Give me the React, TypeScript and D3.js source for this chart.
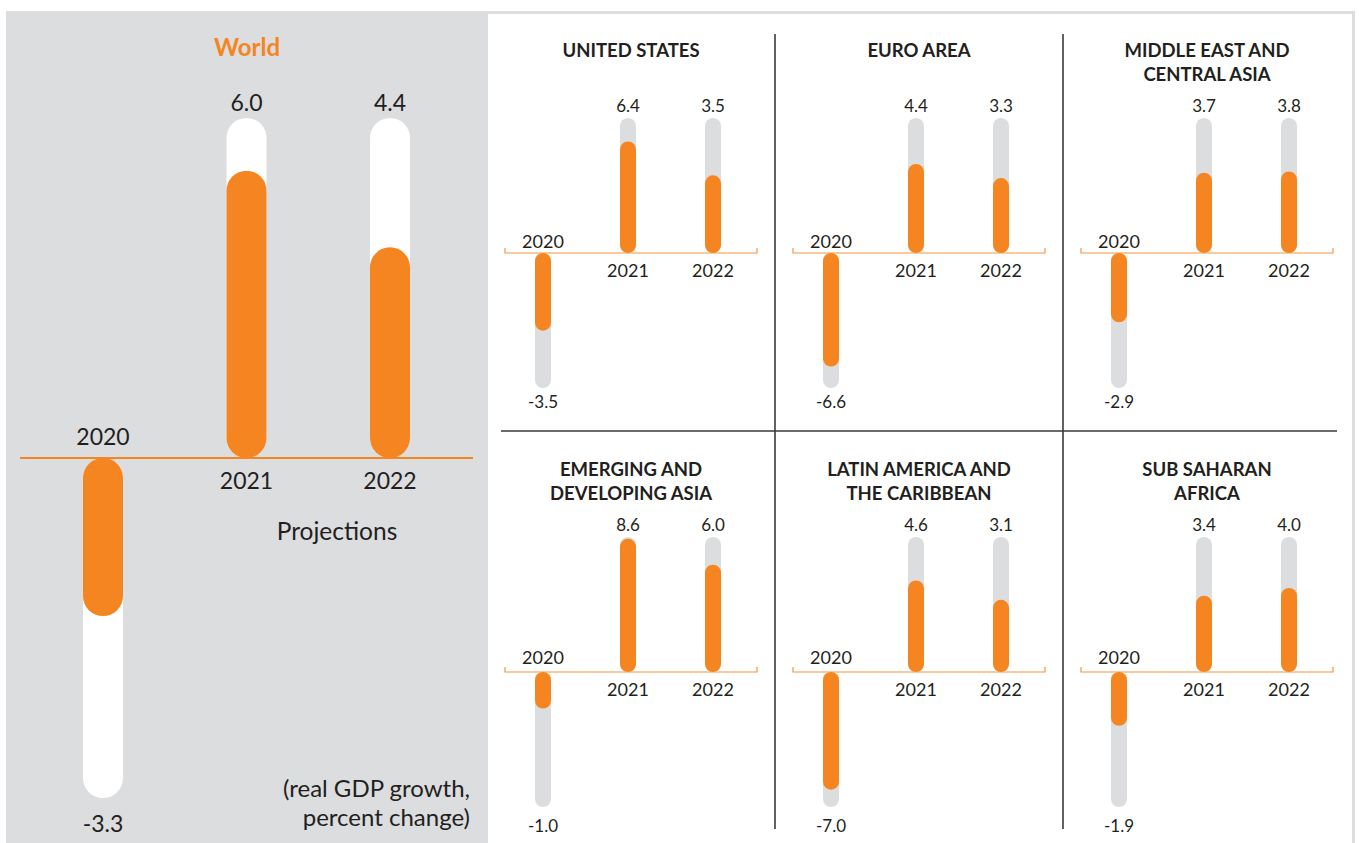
import React from 'react';
import * as d3 from 'd3';

const years = ['2020', '2021', '2022'];
const worldValues = [-3.3, 6.0, 4.4];

const regionTitles = [
  ['UNITED STATES'],
  ['EURO AREA'],
  ['MIDDLE EAST AND', 'CENTRAL ASIA'],
  ['EMERGING AND', 'DEVELOPING ASIA'],
  ['LATIN AMERICA AND', 'THE CARIBBEAN'],
  ['SUB SAHARAN', 'AFRICA'],
];
const usValues = [-3.5, 6.4, 3.5];
const euroValues = [-6.6, 4.4, 3.3];
const mecaValues = [-2.9, 3.7, 3.8];
const asiaValues = [-1.0, 8.6, 6.0];
const latamValues = [-7.0, 4.6, 3.1];
const ssaValues = [-1.9, 3.4, 4.0];
const regionValues = [usValues, euroValues, mecaValues, asiaValues, latamValues, ssaValues];

const ORANGE = '#f58520';
const TEXT = '#231f20';
const PANEL_GREY = '#dcdddf';
const TRACK_GREY = '#dcddde';
const FONT = 'Lato, "Open Sans", sans-serif';

const fmt = (v: number) => v.toFixed(1);

// one pill (rounded bar) between baseline and baseline +/- len
function Pill({ cx, base, len, w, up, fill }: { cx: number; base: number; len: number; w: number; up: boolean; fill: string }) {
  const h = Math.max(len, w);
  return <rect x={cx - w / 2} y={up ? base - h : base} width={w} height={h} rx={w / 2} ry={w / 2} fill={fill} />;
}

function WorldPanel() {
  const base = 458;
  const trackLen = 340;
  const x = d3.scalePoint<string>().domain(years).range([103, 390]);
  const len = d3.scaleLinear().domain([0, 7.1]).range([0, trackLen]);
  const w = 40;

  return (
    <g>
      <text x={247} y={56} textAnchor="middle" fontSize={24} fontWeight={700} fill={ORANGE}>World</text>
      {years.map((yr, i) => {
        const v = worldValues[i];
        const up = v >= 0;
        const cx = x(yr) as number;
        return (
          <g key={yr}>
            <Pill cx={cx} base={base} len={trackLen} w={w} up={up} fill="#ffffff" />
            <Pill cx={cx} base={base} len={len(Math.abs(v))} w={w} up={up} fill={ORANGE} />
            <text x={cx} y={up ? base - trackLen - 7 : base + trackLen + 34} textAnchor="middle" fontSize={23} fill={TEXT}>{fmt(v)}</text>
            <text x={cx} y={up ? base + 31 : base - 13} textAnchor="middle" fontSize={23} fill={TEXT}>{yr}</text>
          </g>
        );
      })}
      <line x1={20} x2={473} y1={base} y2={base} stroke={ORANGE} strokeWidth={2} />
      <text x={337} y={540} textAnchor="middle" fontSize={24.5} fill={TEXT}>Projections</text>
      <text x={470} y={797} textAnchor="end" fontSize={24} fill={TEXT}>(real GDP growth,</text>
      <text x={470} y={826} textAnchor="end" fontSize={24} fill={TEXT}>percent change)</text>
    </g>
  );
}

function RegionPanel({ title, values, x0, y0, row }: { title: string[]; values: number[]; x0: number; y0: number; row: number }) {
  const base = y0 + 253;
  const trackLen = 135;
  const w = 16;
  const x = d3.scalePoint<string>().domain(years).range([x0 + 56, x0 + 226]);
  const len = d3.scalePow().exponent(0.6).domain([0, 8.8]).range([0, trackLen]);
  const negLabelGap = row === 0 ? 20 : 25;
  const yearAboveGap = row === 0 ? 5 : 8;

  return (
    <g>
      {title.map((t, k) => (
        <text key={t} x={x0 + 144} y={y0 + 57 + k * 23.5} textAnchor="middle" fontSize={18.5} fontWeight={700} fill={TEXT}>{t}</text>
      ))}
      <path
        d={`M${x0 + 18},${base - 5}V${base}H${x0 + 270}V${base - 5}`}
        fill="none" stroke={ORANGE} strokeWidth={1.2} opacity={0.85}
      />
      {years.map((yr, i) => {
        const v = values[i];
        const up = v >= 0;
        const cx = x(yr) as number;
        return (
          <g key={yr}>
            <Pill cx={cx} base={base} len={trackLen} w={w} up={up} fill={TRACK_GREY} />
            <Pill cx={cx} base={base} len={len(Math.abs(v))} w={w} up={up} fill={ORANGE} />
            <text x={cx} y={up ? base - trackLen - 6 : base + trackLen + negLabelGap} textAnchor="middle" fontSize={17} fill={TEXT}>{fmt(v)}</text>
            <text x={cx} y={up ? base + 24 : base - yearAboveGap} textAnchor="middle" fontSize={18} fill={TEXT}>{yr}</text>
          </g>
        );
      })}
    </g>
  );
}

export default function App() {
  const width = 1359;
  const height = 843;
  const colW = 288;
  const rowH = 419;

  return (
    <svg width={width} height={height} style={{ position: 'absolute', left: 0, top: 0, fontFamily: FONT }}>
      <rect x={0} y={0} width={width} height={height} fill="#ffffff" />
      <rect x={6} y={11} width={1349} height={height - 11} fill={PANEL_GREY} />
      <rect x={488} y={14} width={864} height={height - 14} fill="#ffffff" />

      <WorldPanel />

      {regionTitles.map((t, i) => (
        <RegionPanel
          key={t.join(' ')}
          title={t}
          values={regionValues[i]}
          x0={487 + (i % 3) * colW}
          y0={Math.floor(i / 3) * rowH}
          row={Math.floor(i / 3)}
        />
      ))}

      <g stroke="#3a3a3a" strokeWidth={1.6}>
        <line x1={775} x2={775} y1={34} y2={829} />
        <line x1={1063} x2={1063} y1={34} y2={829} />
        <line x1={501} x2={1337} y1={431} y2={431} />
      </g>
    </svg>
  );
}
